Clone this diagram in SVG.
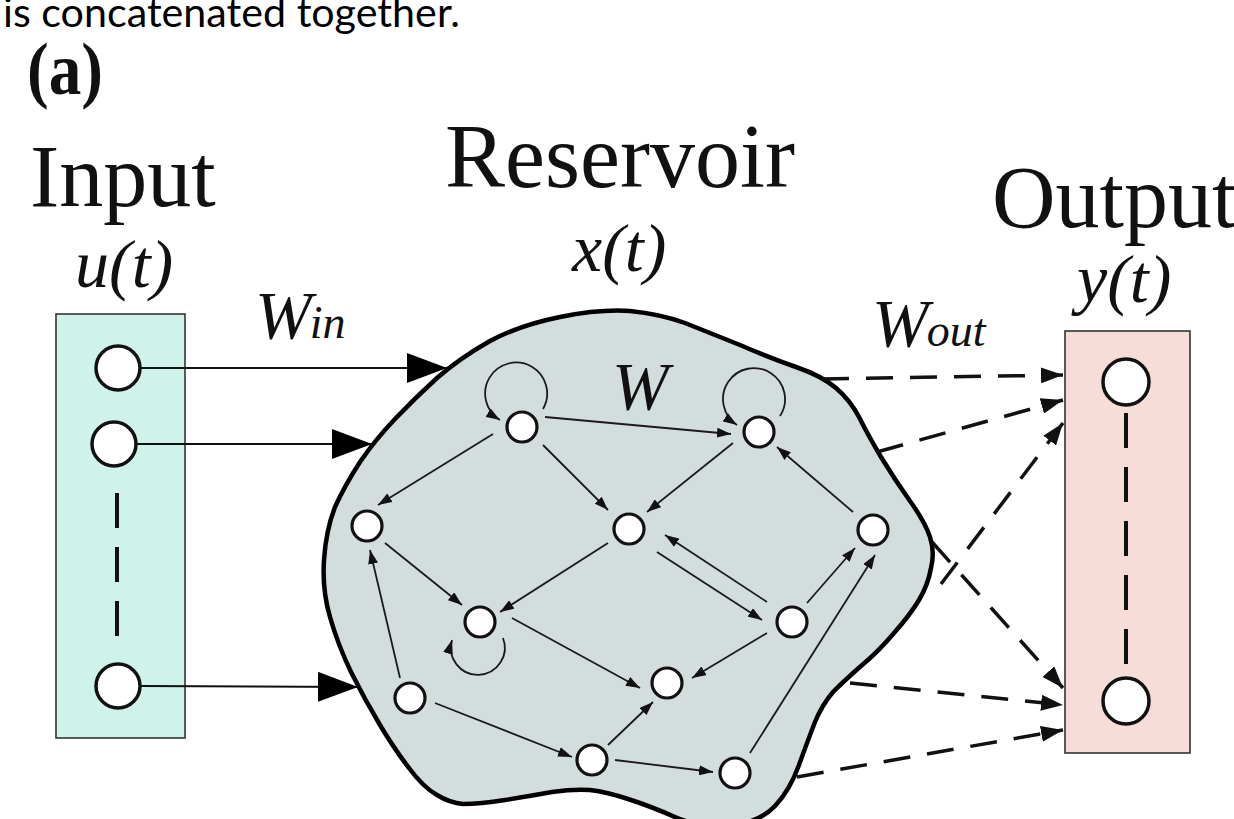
<svg xmlns="http://www.w3.org/2000/svg" width="1234" height="819" viewBox="0 0 1234 819">
  <style>
    .serif { font-family: "Liberation Serif", "Times New Roman", serif; fill: #111; }
    .ital { font-family: "Liberation Serif", "Times New Roman", serif; font-style: italic; fill: #111; }
    .node { fill: #fff; stroke: #111; stroke-width: 3.5; }
    .rnode { fill: #fff; stroke: #111; stroke-width: 3.2; }
    .edge { fill: none; stroke: #1a1a1a; stroke-width: 1.8; marker-end: url(#ah); }
    .inarrow { fill: none; stroke: #111; stroke-width: 2; }
    .outarrow { fill: none; stroke: #111; stroke-width: 3.5; stroke-dasharray: 27 17; marker-end: url(#ahd); }
    .vdash { stroke: #111; stroke-width: 4; stroke-dasharray: 35 19; }
  </style>
  <defs>
    <marker id="ah" viewBox="0 0 14 10" refX="14" refY="5" markerWidth="14" markerHeight="10" markerUnits="userSpaceOnUse" orient="auto">
      <path d="M0,0 L14,5 L0,10 z" fill="#111"/>
    </marker>
    <marker id="ahd" viewBox="0 0 22 16" refX="22" refY="8" markerWidth="22" markerHeight="16" markerUnits="userSpaceOnUse" orient="auto">
      <path d="M0,0 L22,8 L0,16 z" fill="#111"/>
    </marker>
    <marker id="ahb" viewBox="0 0 40 30" refX="40" refY="15" markerWidth="40" markerHeight="30" markerUnits="userSpaceOnUse" orient="auto">
      <path d="M0,0 L40,15 L0,30 z" fill="#000"/>
    </marker>
  </defs>

  <rect width="1234" height="819" fill="#fff"/>

  <!-- caption fragment and panel label -->
  <text x="3" y="27" font-family="Lato, 'Open Sans', sans-serif" font-size="40" fill="#000" textLength="457" lengthAdjust="spacingAndGlyphs">is concatenated together.</text>
  <text x="27" y="94" class="serif" font-weight="bold" font-size="74" textLength="76" lengthAdjust="spacingAndGlyphs">(a)</text>

  <!-- section titles -->
  <text x="30" y="206" class="serif" font-size="88">Input</text>
  <text x="445" y="187" class="serif" font-size="90">Reservoir</text>
  <text x="992" y="227" class="serif" font-size="88">Output</text>

  <text x="75" y="287" class="ital" font-size="68">u(t)</text>
  <text x="572" y="271" class="ital" font-size="68">x(t)</text>
  <text x="1077" y="302" class="ital" font-size="68">y(t)</text>

  <text x="255" y="338" class="ital" font-size="68">W<tspan font-size="46" dx="-2">in</tspan></text>
  <text x="872" y="346" class="ital" font-size="68">W<tspan font-size="46" dx="-2">out</tspan></text>

  <!-- input layer -->
  <g id="input">
    <rect x="56" y="314" width="129" height="424" fill="#cff3ea" stroke="#333" stroke-width="1.6"/>
    <circle class="node" cx="118" cy="368" r="22"/>
    <circle class="node" cx="114" cy="444" r="22"/>
    <line class="vdash" x1="117" y1="493" x2="117" y2="636"/>
    <circle class="node" cx="118" cy="686" r="22"/>
  </g>

  <!-- output layer -->
  <g id="output">
    <rect x="1065" y="331" width="125" height="422" fill="#f7ddd7" stroke="#333" stroke-width="1.6"/>
    <circle class="node" cx="1126" cy="382" r="23"/>
    <line class="vdash" x1="1126" y1="413" x2="1126" y2="666" stroke-dasharray="35 20"/>
    <circle class="node" cx="1126" cy="701" r="23"/>
  </g>

  <!-- reservoir body -->
  <g id="reservoir">
    <path d="M630,311
             Q660,314 685,323 Q710,333 740,345 Q770,358 796,367 Q822,376 836,388
             Q850,400 859,417 Q868,435 881,457 Q895,480 910,501 Q925,522 930,537
             Q935,552 931,568 Q928,585 919,600 Q910,615 894,633 Q878,652 861,666
             Q845,680 833,692 Q822,705 815,722 Q808,740 799,765 Q790,790 775,806
             Q760,822 730,826 Q700,828 675,817 Q650,806 628,799 Q607,792 590,790
             Q573,789 552,792 Q530,796 505,800 Q480,804 463,804 Q450,803 437,795
             Q423,787 409,768 Q395,750 380,725 Q365,700 351,672 Q338,645 330,617
             Q322,590 324,560 Q326,530 335,507 Q345,485 360,462 Q375,440 395,419
             Q415,398 437,378 Q460,358 490,341 Q520,325 560,317 Q600,309 630,311 Z"
          fill="#d4dddd" stroke="#000" stroke-width="4.5" stroke-linejoin="round"/>
    <text x="612" y="409" class="ital" font-size="68">W</text>
  </g>

  <!-- reservoir units -->
  <g id="unit-a"><circle class="rnode" cx="522" cy="427" r="15"/></g>
  <g id="unit-b"><circle class="rnode" cx="367" cy="526" r="15"/></g>
  <g id="unit-c"><circle class="rnode" cx="629" cy="529" r="15"/></g>
  <g id="unit-d"><circle class="rnode" cx="759" cy="432" r="15"/></g>
  <g id="unit-e"><circle class="rnode" cx="873" cy="530" r="15"/></g>
  <g id="unit-f"><circle class="rnode" cx="480" cy="622" r="15"/></g>
  <g id="unit-g"><circle class="rnode" cx="792" cy="622" r="15"/></g>
  <g id="unit-h"><circle class="rnode" cx="667" cy="683" r="15"/></g>
  <g id="unit-i"><circle class="rnode" cx="410" cy="698" r="15"/></g>
  <g id="unit-j"><circle class="rnode" cx="592" cy="760" r="15"/></g>
  <g id="unit-k"><circle class="rnode" cx="735" cy="773" r="15"/></g>

  <!-- connectors -->
  <g id="connectors">
    <!-- input weights -->
    <line class="inarrow" x1="141" y1="368" x2="447" y2="368" marker-end="url(#ahb)"/>
    <line class="inarrow" x1="137" y1="444" x2="372" y2="444" marker-end="url(#ahb)"/>
    <line class="inarrow" x1="141" y1="686" x2="358" y2="687" marker-end="url(#ahb)"/>

    <!-- recurrent weights -->
    <path class="edge" d="M543,409 A31,31 0 1 0 500,420"/>
    <path class="edge" d="M780,416 A31,31 0 1 0 737,425"/>
    <path class="edge" d="M503,638 A27,27 0 1 1 452,640"/>
    <line class="edge" x1="545" y1="417" x2="731" y2="434"/>
    <line class="edge" x1="493" y1="434" x2="378" y2="505"/>
    <line class="edge" x1="543" y1="445" x2="608" y2="510"/>
    <line class="edge" x1="733" y1="443" x2="647" y2="512"/>
    <line class="edge" x1="853" y1="512" x2="777" y2="447"/>
    <line class="edge" x1="385" y1="543" x2="462" y2="605"/>
    <line class="edge" x1="608" y1="543" x2="500" y2="612"/>
    <line class="edge" x1="400" y1="678" x2="370" y2="550"/>
    <line class="edge" x1="512" y1="618" x2="640" y2="688"/>
    <line class="edge" x1="657" y1="552" x2="762" y2="620"/>
    <line class="edge" x1="767" y1="602" x2="665" y2="535"/>
    <line class="edge" x1="767" y1="633" x2="692" y2="678"/>
    <line class="edge" x1="807" y1="603" x2="855" y2="548"/>
    <line class="edge" x1="750" y1="753" x2="875" y2="555"/>
    <line class="edge" x1="435" y1="703" x2="572" y2="757"/>
    <line class="edge" x1="608" y1="745" x2="653" y2="702"/>
    <line class="edge" x1="615" y1="760" x2="713" y2="772"/>

    <!-- output weights -->
    <line class="outarrow" x1="822" y1="379" x2="1063" y2="375"/>
    <line class="outarrow" x1="877" y1="452" x2="1063" y2="400"/>
    <line class="outarrow" x1="941" y1="584" x2="1063" y2="423"/>
    <line class="outarrow" x1="932" y1="542" x2="1063" y2="688" stroke-dasharray="36 17 27 17 27 17 27 17 27 17"/>
    <line class="outarrow" x1="850" y1="683" x2="1063" y2="705"/>
    <line class="outarrow" x1="797" y1="777" x2="1063" y2="730"/>
  </g>
</svg>
